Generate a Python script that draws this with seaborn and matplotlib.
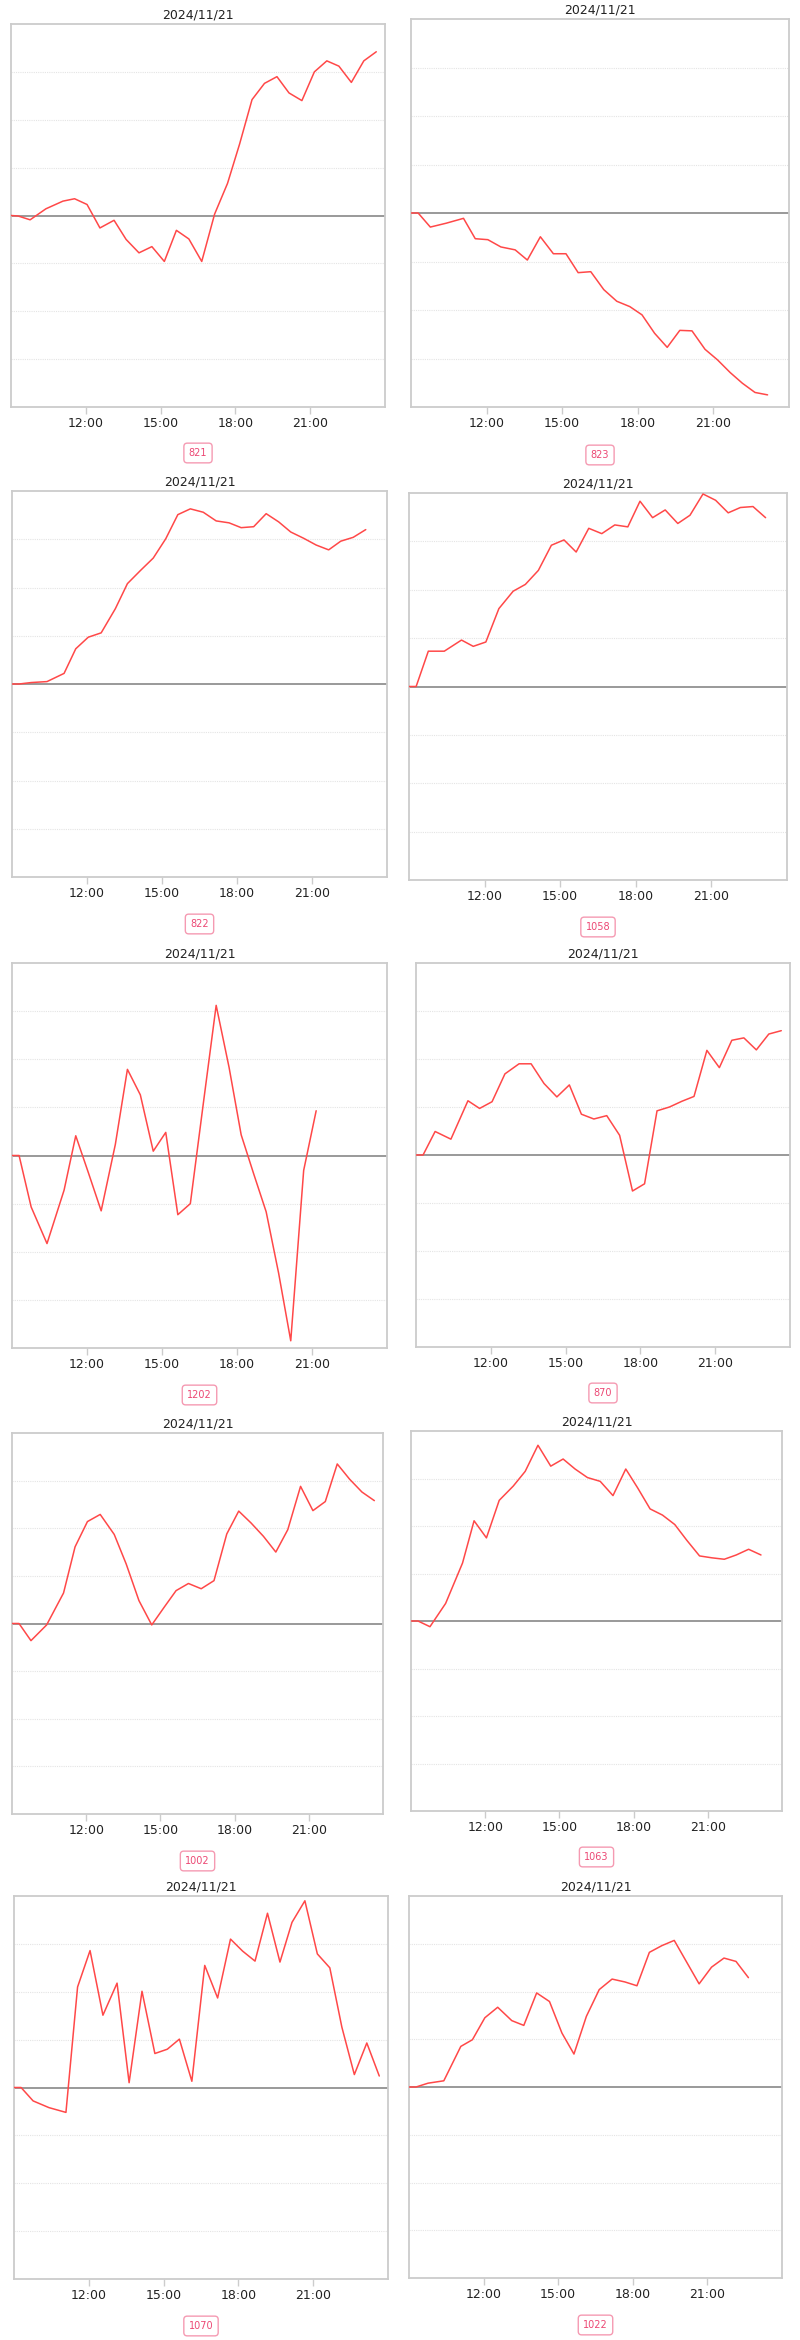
import matplotlib
matplotlib.use("Agg")
import matplotlib.pyplot as plt
import seaborn as sns
import pandas as pd

# ---------------- data ----------------
date_label = "2024/11/21"
times = ["09:00", "09:17", "09:46", "10:24", "11:05", "11:33", "12:03", "12:34",
         "13:08", "13:37", "14:08", "14:39", "15:09", "15:38", "16:08", "16:39",
         "17:10", "17:41", "18:10", "18:40", "19:10", "19:40", "20:09", "20:40",
         "21:10", "21:40", "22:09", "22:39", "23:09", "23:39"]
tick_hours = [12, 15, 18, 21]
tick_labels = ["12:00", "15:00", "18:00", "21:00"]

ids = ["821", "823", "822", "1058", "1202", "870", "1002", "1063", "1070", "1022"]

v821 = [0, -0.01, -0.09, 0.14, 0.30, 0.35, 0.23, -0.26, -0.10, -0.50, -0.78, -0.65,
        -0.96, -0.31, -0.49, -0.96, 0.03, 0.67, 1.49, 2.42, 2.76, 2.90, 2.56, 2.40,
        3.00, 3.23, 3.12, 2.78, 3.23, 3.42]
v823 = [0, 0, -0.29, -0.21, -0.11, -0.53, -0.55, -0.70, -0.76, -0.97, -0.49, -0.84,
        -0.84, -1.23, -1.21, -1.58, -1.82, -1.93, -2.10, -2.48, -2.77, -2.42, -2.43,
        -2.81, -3.03, -3.29, -3.51, -3.70, -3.75]
v822 = [0, 0, 0.03, 0.05, 0.22, 0.73, 0.97, 1.06, 1.56, 2.08, 2.35, 2.61, 3.01, 3.51,
        3.63, 3.56, 3.38, 3.34, 3.24, 3.26, 3.53, 3.36, 3.15, 3.02, 2.88, 2.78, 2.96,
        3.04, 3.20]
v1058 = [0, 0, 0.73, 0.73, 0.96, 0.83, 0.92, 1.61, 1.97, 2.11, 2.40, 2.92, 3.03, 2.78,
         3.27, 3.16, 3.34, 3.30, 3.83, 3.49, 3.65, 3.37, 3.54, 3.98, 3.85, 3.59, 3.70,
         3.72, 3.49]
v1202 = [0, 0, -1.07, -1.83, -0.72, 0.41, -0.35, -1.15, 0.23, 1.79, 1.26, 0.09, 0.48,
         -1.23, -1.00, 1.07, 3.12, 1.83, 0.43, -0.38, -1.17, -2.45, -3.85, -0.31, 0.93]
v870 = [0, 0, 0.49, 0.33, 1.13, 0.97, 1.11, 1.69, 1.90, 1.90, 1.49, 1.21, 1.46, 0.85,
        0.75, 0.82, 0.41, -0.75, -0.60, 0.92, 1.00, 1.12, 1.22, 2.18, 1.82, 2.39, 2.44,
        2.19, 2.52, 2.59]
v1002 = [0, 0, -0.36, -0.03, 0.64, 1.61, 2.14, 2.29, 1.87, 1.25, 0.48, -0.03, 0.34,
         0.69, 0.84, 0.73, 0.90, 1.88, 2.36, 2.11, 1.83, 1.50, 1.97, 2.88, 2.37, 2.56,
         3.35, 3.03, 2.76, 2.58]
v1063 = [0, 0, -0.12, 0.37, 1.22, 2.11, 1.75, 2.54, 2.84, 3.15, 3.70, 3.26, 3.41, 3.20,
         3.02, 2.94, 2.64, 3.20, 2.80, 2.36, 2.23, 2.03, 1.70, 1.37, 1.33, 1.30, 1.39,
         1.51, 1.39]
v1070 = [0, 0, -0.28, -0.42, -0.52, 2.10, 2.86, 1.51, 2.18, 0.10, 2.01, 0.71, 0.80,
         1.01, 0.13, 2.55, 1.87, 3.10, 2.85, 2.64, 3.64, 2.62, 3.45, 3.90, 2.79, 2.50,
         1.26, 0.27, 0.93, 0.24]
v1022 = [0, 0, 0.08, 0.13, 0.85, 0.99, 1.45, 1.67, 1.39, 1.29, 1.97, 1.79, 1.13, 0.69,
         1.48, 2.04, 2.26, 2.20, 2.12, 2.82, 2.96, 3.07, 2.63, 2.16, 2.51, 2.70, 2.63,
         2.29]

series = [v821, v823, v822, v1058, v1202, v870, v1002, v1063, v1070, v1022]

# ---------------- layout (pixels: left, right, top, bottom, label_y) ----------------
W, H = 800, 2340
boxes = [
    (11, 385, 24, 407, 453), (411, 789, 19, 407, 455),
    (12, 387, 491, 877, 924), (409, 787, 493, 880, 927),
    (12, 387, 963, 1348, 1395), (416, 790, 963, 1347, 1393),
    (12, 383, 1433, 1814, 1861), (411, 782, 1431, 1811, 1857),
    (14, 388, 1896, 2279, 2326), (409, 782, 1896, 2278, 2325),
]

sns.set_theme(style="white")
plt.rcParams["font.family"] = ["DejaVu Sans"]

def to_hours(t):
    h, m = t.split(":")
    return int(h) + int(m) / 60.0

fig = plt.figure(figsize=(W / 100, H / 100), dpi=100)
fig.patch.set_facecolor("white")

for pid, vals, (l, r, t, b, ly) in zip(ids, series, boxes):
    ax = fig.add_axes([l / W, 1 - b / H, (r - l) / W, (b - t) / H])
    df = pd.DataFrame({"hour": [to_hours(x) for x in times[:len(vals)]], "value": vals})
    ax.set_yticks([-3, -2, -1, 1, 2, 3])
    ax.yaxis.grid(True, color="#e4e4e4", linestyle=(0, (1, 1)), linewidth=0.8)
    ax.set_axisbelow(True)
    ax.axhline(0, color="#999999", linewidth=1.4, zorder=1)
    sns.lineplot(data=df, x="hour", y="value", ax=ax, color="#ff4848",
                 linewidth=1.1, zorder=3)
    ax.set_xlim(9, 24)
    ax.set_ylim(-4, 4)
    ax.set_xticks(tick_hours)
    ax.set_xticklabels(tick_labels)
    ax.set_xlabel("")
    ax.set_ylabel("")
    ax.tick_params(axis="x", direction="out", length=5, width=1, color="#cccccc",
                   labelcolor="#222222", labelsize=9, pad=2.5, bottom=True)
    ax.tick_params(axis="y", length=0, labelleft=False)
    for sp in ax.spines.values():
        sp.set_color("#cccccc")
        sp.set_linewidth(1.3)
    ax.set_title(date_label, fontsize=9, color="#222222", pad=4)
    fig.text(((l + r) / 2) / W, 1 - ly / H, pid, ha="center", va="center",
             fontsize=7, color="#ec4874",
             bbox=dict(boxstyle="round,pad=0.5,rounding_size=0.35",
                       facecolor="white", edgecolor="#f59ab2", linewidth=1))

fig.savefig("out.png", dpi=100, facecolor="white")
